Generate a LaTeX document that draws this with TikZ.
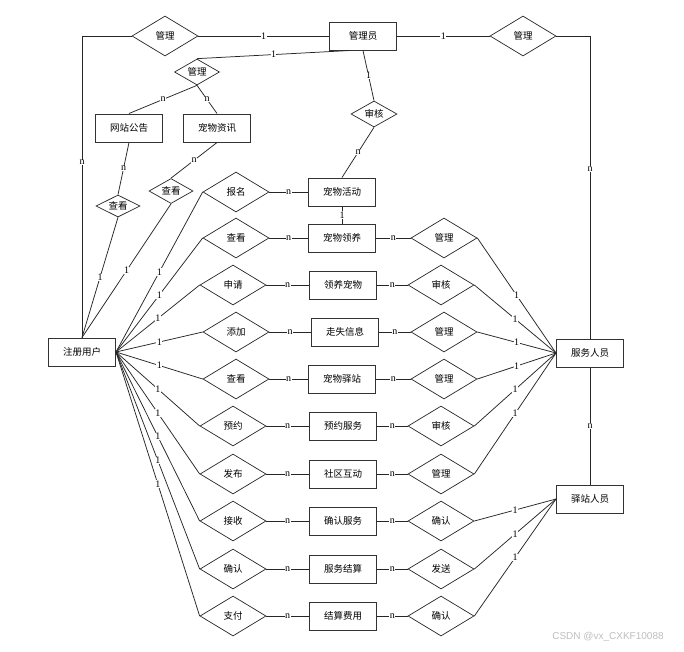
\documentclass[tikz,border=0pt]{standalone}
\usepackage{fontspec}
\usetikzlibrary{shapes.geometric,calc}
\newfontfamily\cjk{Noto Sans CJK SC}
\newfontfamily\labfont{Liberation Serif}
\newfontfamily\wmfont{Liberation Sans}

\tikzset{
  entity/.style={draw=black!80, line width=1pt, fill=white, rectangle,
    minimum width=67pt, minimum height=28pt, inner sep=0pt,
    font=\cjk\fontsize{9.5}{10}\selectfont},
  rel/.style={draw=black!85, line width=0.7pt, fill=white, diamond, aspect=1.65,
    minimum width=66pt, minimum height=40pt, inner sep=0pt,
    font=\cjk\fontsize{9.5}{10}\selectfont},
  relsmall/.style={rel, minimum width=45pt, minimum height=26pt},
  conn/.style={draw=black!85, line width=0.75pt},
  lab/.style={fill=white, inner sep=0.4pt, text=black,
    font=\labfont\fontsize{10}{10}\selectfont},
}

\begin{document}
\begin{tikzpicture}[x=1pt,y=-1pt]
  \path[fill=white] (0,0) rectangle (684,651);
  \useasboundingbox (0,0) rectangle (684,651);

  % main entities
  \node[entity] (admin)  at (363,36)  {管理员};
  \node[entity] (notice) at (129,128) {网站公告};
  \node[entity] (news)   at (217,128) {宠物资讯};
  \node[entity] (user)   at (82,352)  {注册用户};
  \node[entity] (staff)  at (590,353) {服务人员};
  \node[entity] (post)   at (590,499) {驿站人员};

  % relationships around the administrator
  \node[rel] (mTL) at (165,36) {管理};
  \node[rel] (mTR) at (523,36) {管理};
  \node[relsmall] (mMid) at (197,72) {管理};
  \node[relsmall, minimum width=46pt] (aud) at (374,114) {审核};
  \node[relsmall, minimum width=44pt, minimum height=22pt] (v1) at (118,206) {查看};
  \node[relsmall, minimum width=44pt, minimum height=25pt] (v2) at (171,191) {查看};

  % first row: activities
  \node[rel] (L1) at (236,192) {报名};
  \node[entity] (E1) at (342,192) {宠物活动};

  % rows with a left relationship, an entity and a right relationship
  \foreach \i/\y/\lx/\lt/\ex/\et/\rx/\rt in {
      2/238/236/查看/342/宠物领养/444/管理,
      3/285/233/申请/343/领养宠物/441/审核,
      4/332/236/添加/345/走失信息/444/管理,
      5/379/236/查看/342/宠物驿站/444/管理,
      6/426/233/预约/343/预约服务/441/审核,
      7/474/233/发布/343/社区互动/441/管理,
      8/521/233/接收/343/确认服务/441/确认,
      9/569/233/确认/343/服务结算/441/发送,
      10/616/233/支付/343/结算费用/441/确认}{
    \node[rel] (L\i) at (\lx,\y) {\lt};
    \node[entity] (E\i) at (\ex,\y) {\et};
    \node[rel] (R\i) at (\rx,\y) {\rt};
  }

  % administrator connections
  \draw[conn] (user.north) |- node[lab, pos=0.29] {n} (mTL.west);
  \draw[conn] (mTL.east) -- node[lab] {1} (admin.west);
  \draw[conn] (admin.east) -- node[lab] {1} (mTR.west);
  \draw[conn] (mTR.east) -| node[lab, pos=0.72] {n} (staff.north);
  \coordinate (adminbl) at ($(admin.south)+(-13,0)$);
  \draw[conn] (mMid.north) -- node[lab] {1} (adminbl);
  \draw[conn] (mMid.south) -- node[lab] {n} (notice.north);
  \draw[conn] (mMid.south) -- node[lab] {n} (news.north);
  \draw[conn] (admin.south) -- node[lab] {1} (aud.north);
  \draw[conn] (aud.south) -- node[lab] {n} (E1.north);

  % viewing notices and news
  \draw[conn] (notice.south) -- node[lab] {n} (v1.north);
  \draw[conn] (news.south) -- node[lab] {n} (v2.north);
  \draw[conn] (v1.south) -- node[lab] {1} (user.north);
  \draw[conn] (v2.south) -- node[lab] {1} (user.north);

  % staff hierarchy
  \draw[conn] (staff.south) -- node[lab] {n} (post.north);
  \draw[conn] (E1.south) -- node[lab] {1} (E2.north);

  % user fan-out
  \foreach \i in {1,...,10}{
    \draw[conn] (user.east) -- node[lab] {1} (L\i.west);
    \draw[conn] (L\i.east) -- node[lab] {n} (E\i.west);
  }
  \foreach \i in {2,...,10}{
    \draw[conn] (E\i.east) -- node[lab] {n} (R\i.west);
  }
  \foreach \i in {2,...,7}{
    \draw[conn] (R\i.east) -- node[lab] {1} (staff.west);
  }
  \foreach \i in {8,9,10}{
    \draw[conn] (R\i.east) -- node[lab] {1} (post.west);
  }

  \node[text=black!25, font=\wmfont\fontsize{10}{10}\selectfont] (wm) at (608,637) {CSDN @vx\_CXKF10088};
\end{tikzpicture}
\end{document}
